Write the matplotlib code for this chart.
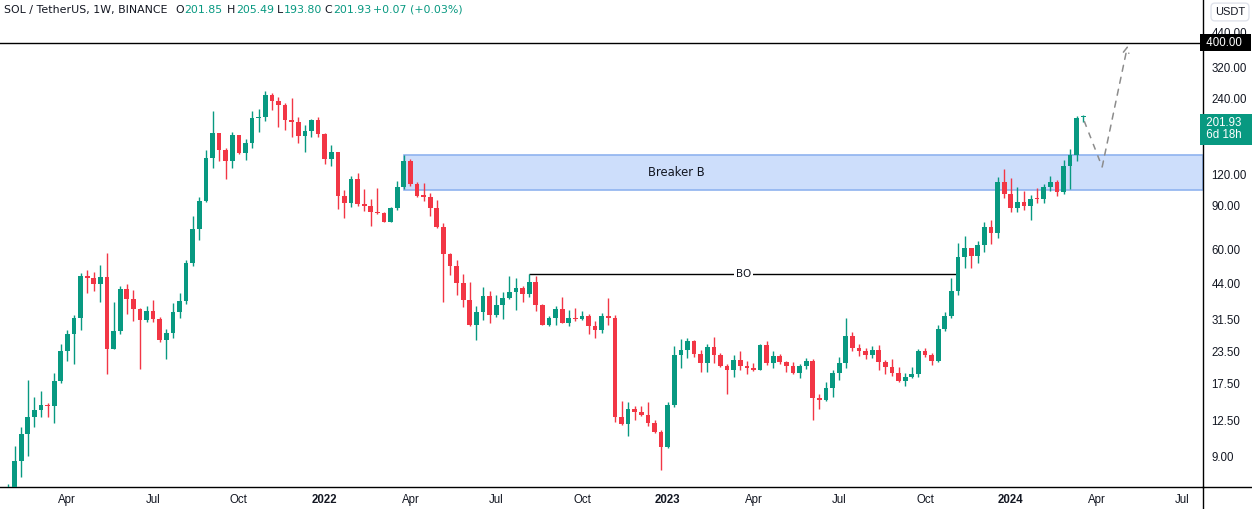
# Import libraries
import numpy as np
import pandas as pd
import matplotlib
matplotlib.use("Agg")
import matplotlib.pyplot as plt
import matplotlib.dates as mdates
from matplotlib.patches import Rectangle
from matplotlib.lines import Line2D
from matplotlib.transforms import blended_transform_factory


# =========================
# Data (SOL / USDT, weekly candles)
# =========================
week_start = "2021-02-01"
n_weeks = 164

opens = [4.3, 6.0, 8.6, 11.0, 12.9, 13.7, 14.4, 14.2, 17.9, 23.6,
         27.7, 32.0, 47.0, 46.3, 43.8, 46.6, 24.1, 28.3, 41.7, 38.2,
         34.8, 31.4, 34.1, 31.6, 26.2, 28.0, 33.8, 37.4, 52.9, 72.3,
         93.6, 139.2, 174.6, 150.1, 135.0, 171.4, 145.2, 159.3, 200.7, 202.0,
         247.4, 235.2, 227.0, 197.9, 193.5, 170.6, 178.2, 197.0, 173.0, 137.5,
         146.5, 98.4, 92.2, 114.6, 91.3, 89.3, 84.5, 83.8, 77.4, 88.0,
         106.5, 135.2, 109.5, 98.4, 97.6, 88.2, 74.0, 57.7, 51.6, 44.1,
         37.8, 30.0, 33.8, 39.1, 33.0, 36.2, 38.4, 40.5, 42.1, 39.8,
         44.4, 35.9, 30.0, 32.0, 34.7, 30.6, 31.9, 31.6, 32.5, 29.8,
         28.7, 32.5, 32.0, 12.9, 12.1, 13.9, 13.5, 13.1, 12.2, 11.2,
         9.8, 14.4, 22.8, 23.9, 25.8, 22.9, 21.1, 24.6, 22.7, 20.6,
         19.8, 21.7, 20.6, 20.2, 19.8, 25.0, 21.1, 22.6, 21.3, 20.6,
         19.3, 20.6, 21.5, 15.3, 15.1, 16.8, 19.3, 21.1, 27.0, 24.2,
         23.7, 22.7, 23.9, 21.3, 20.4, 19.3, 17.9, 18.6, 19.2, 23.6,
         22.8, 21.5, 28.9, 32.5, 40.9, 56.1, 60.8, 56.7, 62.5, 74.0,
         69.7, 111.5, 99.8, 88.0, 92.8, 89.5, 95.4, 95.0, 106.5, 111.5,
         101.8, 129.0, 143.0, 201.85]

highs = [7.0, 9.9, 11.8, 18.1, 15.5, 16.4, 14.6, 19.3, 25.3, 28.6,
         32.8, 48.3, 49.7, 48.8, 51.9, 58.1, 37.0, 42.8, 43.8, 41.3,
         35.0, 35.6, 37.7, 32.3, 29.0, 36.8, 40.2, 54.5, 81.6, 97.1,
         149.6, 214.0, 175.0, 153.0, 177.0, 172.0, 166.0, 214.0, 218.0, 256.0,
         252.0, 243.5, 230.5, 241.3, 202.6, 188.4, 198.8, 202.6, 175.0, 156.6,
         147.0, 103.6, 117.8, 121.1, 104.5, 95.7, 105.5, 84.5, 88.5, 112.6,
         142.9, 137.7, 111.5, 110.7, 100.8, 94.5, 76.3, 58.1, 54.5, 47.8,
         44.4, 35.6, 42.5, 40.9, 39.5, 40.5, 47.0, 46.1, 42.8, 47.9,
         47.0, 36.4, 32.7, 35.6, 38.8, 34.4, 35.0, 34.1, 33.1, 31.2,
         33.4, 38.4, 32.9, 14.9, 14.8, 14.3, 14.3, 14.8, 12.5, 11.4,
         14.8, 24.7, 26.4, 26.6, 26.1, 23.9, 25.3, 26.8, 23.1, 20.9,
         22.7, 23.6, 21.5, 21.2, 25.1, 25.8, 23.7, 22.9, 21.5, 21.3,
         20.9, 22.1, 21.9, 15.9, 17.7, 19.8, 22.3, 32.0, 28.1, 25.3,
         24.4, 24.8, 25.0, 21.7, 21.9, 20.4, 19.3, 20.4, 24.1, 24.4,
         23.1, 30.0, 33.8, 46.4, 63.6, 67.9, 61.0, 64.9, 77.0, 78.6,
         116.8, 125.6, 115.8, 106.5, 102.7, 98.8, 105.5, 109.5, 117.8, 113.6,
         136.5, 151.0, 204.5, 205.49]

lows = [3.9, 5.8, 7.4, 9.0, 11.8, 12.9, 12.9, 12.2, 17.6, 21.6,
        20.9, 28.6, 40.3, 41.0, 37.1, 19.1, 24.0, 27.6, 33.3, 31.2,
        20.1, 30.9, 30.9, 25.7, 22.0, 26.6, 32.1, 36.4, 51.5, 65.6,
        93.0, 127.0, 135.0, 115.0, 127.0, 144.0, 137.0, 152.0, 176.0, 195.0,
        216.0, 185.4, 180.3, 167.9, 160.1, 147.3, 167.9, 168.0, 131.9, 129.7,
        87.3, 80.3, 88.6, 89.3, 85.3, 74.6, 83.5, 77.0, 77.0, 86.5,
        105.0, 107.3, 97.5, 93.9, 81.7, 73.3, 37.2, 47.6, 39.6, 35.5,
        29.8, 26.1, 31.4, 30.6, 32.3, 31.7, 38.0, 34.5, 37.1, 38.9,
        34.0, 29.9, 29.7, 30.0, 30.5, 29.8, 31.2, 31.4, 27.7, 26.6,
        28.0, 30.0, 12.3, 12.0, 10.8, 12.6, 13.0, 11.9, 11.1, 7.9,
        9.7, 14.1, 20.2, 22.1, 22.3, 19.4, 19.4, 21.1, 20.4, 15.9,
        18.6, 19.8, 19.2, 19.7, 19.8, 20.8, 20.2, 21.0, 19.4, 19.2,
        18.4, 20.0, 12.6, 13.9, 15.0, 15.5, 18.1, 20.2, 23.7, 22.6,
        21.9, 22.1, 19.8, 19.2, 18.8, 17.8, 17.1, 18.4, 18.6, 22.3,
        20.8, 21.4, 28.3, 32.0, 39.5, 50.7, 50.7, 52.9, 58.5, 62.9,
        66.6, 96.3, 84.6, 84.6, 86.2, 78.6, 92.0, 92.0, 102.7, 98.0,
        99.8, 104.5, 135.2, 193.80]

closes = [6.0, 8.6, 11.0, 12.9, 13.7, 14.4, 14.2, 17.9, 23.6, 27.7,
          32.0, 47.0, 46.3, 43.8, 46.6, 24.1, 28.3, 41.7, 38.2, 34.8,
          31.4, 34.1, 31.6, 26.2, 28.0, 33.8, 37.4, 52.9, 72.3, 93.6,
          139.2, 174.6, 150.1, 135.0, 171.4, 145.2, 159.3, 200.7, 202.0, 247.4,
          235.2, 227.0, 197.9, 193.5, 170.6, 178.2, 197.0, 173.0, 137.5, 146.5,
          98.4, 92.2, 114.6, 91.3, 89.3, 84.5, 83.8, 77.4, 88.0, 106.5,
          135.2, 109.5, 98.4, 97.6, 88.2, 74.0, 57.7, 51.6, 44.1, 37.8,
          30.0, 33.8, 39.1, 33.0, 36.2, 38.4, 40.5, 42.1, 39.8, 44.4,
          35.9, 30.0, 32.0, 34.7, 30.6, 31.9, 31.6, 32.5, 29.8, 28.7,
          32.5, 32.0, 12.9, 12.1, 13.9, 13.5, 13.1, 12.2, 11.2, 9.8,
          14.4, 22.8, 23.9, 25.8, 22.9, 21.1, 24.6, 22.7, 20.6, 19.8,
          21.7, 20.6, 20.2, 19.8, 25.0, 21.1, 22.6, 21.3, 20.6, 19.3,
          20.6, 21.5, 15.3, 15.1, 16.8, 19.3, 21.1, 27.0, 24.2, 23.7,
          22.7, 23.9, 21.3, 20.4, 19.3, 17.9, 18.6, 19.2, 23.6, 22.8,
          21.5, 28.9, 32.5, 40.9, 56.1, 60.8, 56.7, 62.5, 74.0, 69.7,
          111.5, 99.8, 88.0, 92.8, 89.5, 95.4, 95.0, 106.5, 111.5, 101.8,
          129.0, 143.0, 200.7, 201.93]

# Annotation levels
target_level = 400.0
breaker_top = 142.9
breaker_bottom = 104.0
bo_level = 47.9
bo_start, bo_end = 79, 144
breaker_start = 60
projection_prices = [195.0, 128.0, 390.0]
projection_days = [1, 20, 47]

price_ticks = [9, 12.5, 17.5, 23.5, 31.5, 44, 60, 90, 120, 240, 320, 440]
date_ticks = ["2021-04-05", "2021-07-05", "2021-10-04", "2022-01-03",
              "2022-04-04", "2022-07-04", "2022-10-03", "2023-01-02",
              "2023-04-03", "2023-07-03", "2023-10-02", "2024-01-01",
              "2024-04-01", "2024-07-01"]
date_labels = ["Apr", "Jul", "Oct", "2022", "Apr", "Jul", "Oct", "2023",
               "Apr", "Jul", "Oct", "2024", "Apr", "Jul"]


# =========================
# Style
# =========================
green = "#089981"
red = "#F23645"
text_col = "#131722"
W, H = 1252, 509

plt.rcParams.update({
    "font.family": ["Liberation Sans", "DejaVu Sans"],
    "figure.facecolor": "white",
    "axes.facecolor": "white",
})

dates = pd.date_range(week_start, periods=n_weeks, freq="W-MON")
xd = mdates.date2num(dates.to_pydatetime())
o = np.array(opens)
h = np.array(highs)
l = np.array(lows)
c = np.array(closes)
up = c >= o
cols = np.where(up, green, red)

fig = plt.figure(figsize=(W / 100, H / 100), dpi=100)
ax = fig.add_axes([0, 22 / H, 1203 / W, 487 / H])
ax.set_yscale("log")

# Wicks
ax.vlines(xd, l, h, colors=cols, lw=1.0, zorder=3)

# Bodies (keep a hairline body for doji weeks)
body_lo = np.minimum(o, c)
body_hi = np.maximum(np.maximum(o, c), body_lo * 1.012)
ax.bar(xd, body_hi - body_lo, bottom=body_lo, width=5.0, color=cols,
       linewidth=0, zorder=4)

# Limits (log scale price axis)
ax.set_xlim(xd[0] - 8.5, xd[0] + 1268)
ax.set_ylim(6.78, 593)

# Breaker block
x_right = ax.get_xlim()[1]
ax.add_patch(Rectangle((xd[breaker_start], breaker_bottom),
                       x_right - xd[breaker_start], breaker_top - breaker_bottom,
                       facecolor="#cddefb", edgecolor="#8fb3ef", lw=1.2, zorder=1))
ax.text(mdates.date2num(pd.Timestamp("2023-01-11")), 121.5, "Breaker B",
        fontsize=8.4, color=text_col, ha="center", va="center",
        family="DejaVu Sans", zorder=5)

# Breakout line
ax.hlines(bo_level, xd[bo_start], xd[bo_end] - 2, color="black", lw=1.0, zorder=2)
ax.text((xd[bo_start] + xd[bo_end]) / 2, bo_level, "BO", fontsize=7.5,
        color=text_col, ha="center", va="center", family="DejaVu Sans",
        bbox=dict(facecolor="white", edgecolor="none", pad=1.5), zorder=5)

# Target line
ax.axhline(target_level, color="black", lw=1.0, zorder=2)

# Projection path
px = [xd[-1] + d for d in projection_days]
ax.plot(px[:2], projection_prices[:2], color="#8c8c8c", lw=1.1,
        ls=(0, (4, 4)), zorder=5)
ax.annotate("", xy=(px[2], projection_prices[2]), xytext=(px[1], projection_prices[1]),
            arrowprops=dict(arrowstyle="->", color="#8c8c8c", lw=1.1,
                            ls=(0, (4, 4)), shrinkA=0, shrinkB=0), zorder=5)

# Axes styling
for side in ["top", "left"]:
    ax.spines[side].set_visible(False)
ax.spines["bottom"].set_linewidth(1.0)
ax.spines["right"].set_linewidth(1.0)

ax.yaxis.tick_right()
ax.yaxis.set_major_locator(plt.FixedLocator(price_ticks))
ax.yaxis.set_minor_locator(plt.NullLocator())
ax.set_yticklabels([f"{p:.2f}" for p in price_ticks])
ax.tick_params(axis="y", length=0, pad=6, labelsize=8.3, labelcolor=text_col)

ax.set_xticks(mdates.date2num(pd.to_datetime(date_ticks).to_pydatetime()))
ax.set_xticklabels(date_labels)
ax.tick_params(axis="x", length=0, pad=5, labelsize=8.3, labelcolor=text_col)
for lab in ax.get_xticklabels():
    if lab.get_text().isdigit():
        lab.set_fontweight("bold")

# Axis line extensions to the figure edges
fig.add_artist(Line2D([1203 / W, 1], [22 / H, 22 / H], color="black", lw=1.0))
fig.add_artist(Line2D([1203 / W, 1203 / W], [0, 22 / H], color="black", lw=1.0))

# Price labels on the axis
blend = blended_transform_factory(ax.transAxes, ax.transData)
ax.text(1.0, target_level, " 400.00  ", transform=blend, fontsize=8.3,
        color="white", ha="left", va="center", clip_on=False, zorder=10,
        bbox=dict(boxstyle="square,pad=0.22", facecolor="black", edgecolor="none"))
ax.text(1.0, closes[-1], " 201.93    \n 6d 18h", transform=blend, fontsize=8.3,
        color="white", ha="left", va="top", clip_on=False, zorder=10,
        linespacing=1.0,
        bbox=dict(boxstyle="square,pad=0.3", facecolor=green, edgecolor="none"))
fig.text(1230 / W, 1 - 12 / H, "USDT", fontsize=8, color=text_col,
         ha="center", va="center",
         bbox=dict(boxstyle="round,pad=0.35", facecolor="white", edgecolor="#e0e3eb"))

# Header legend
hy = 1 - 10 / H
header = [(4, "SOL / TetherUS, 1W, BINANCE", text_col),
          (175, "O", text_col), (184, "201.85", green),
          (227, "H", text_col), (236, "205.49", green),
          (277, "L", text_col), (284, "193.80", green),
          (324, "C", text_col), (333, "201.93", green),
          (373, "+0.07 (+0.03%)", green)]
for xp, txt, col in header:
    fig.text(xp / W, hy, txt, fontsize=7.9, color=col, ha="left", va="center",
             family="DejaVu Sans")

fig.savefig("out.png", dpi=100)
